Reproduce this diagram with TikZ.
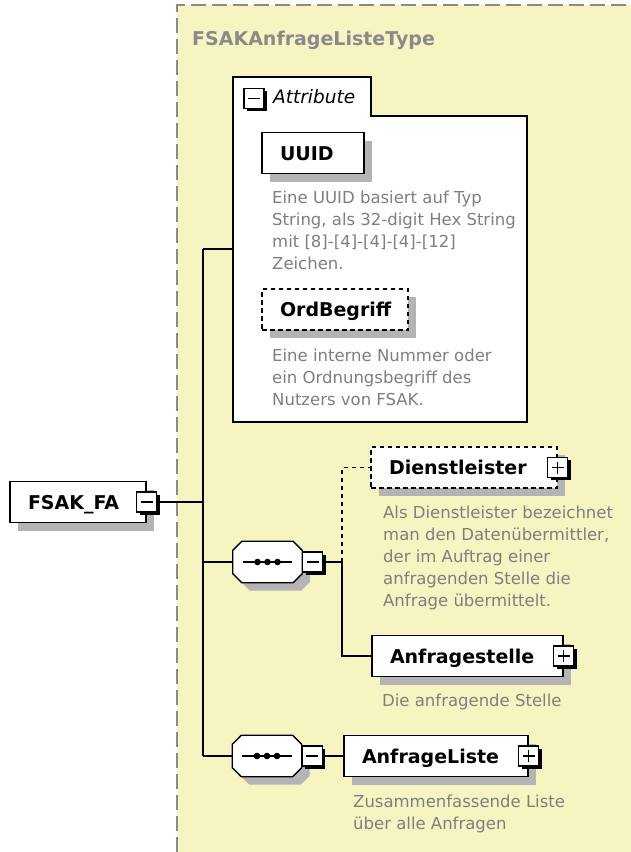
\documentclass[tikz,border=0pt]{standalone}
\usepackage{fontspec}
\setmainfont{DejaVu Sans}
\usetikzlibrary{positioning,shadows}
\definecolor{typefill}{HTML}{F6F4C0}
\definecolor{typeedge}{HTML}{8A8A8A}
\definecolor{shade}{HTML}{B4B4B4}
\definecolor{doctext}{HTML}{7F7F7F}
\newcommand{\elemfont}{\fontsize{19}{22}\selectfont\bfseries}
\newcommand{\docfont}{\fontsize{16.5}{22}\selectfont}
\newcommand{\seqframe}[1]{%
  \path[draw=black, fill=white, line width=1.3pt,
    drop shadow={shadow xshift=8pt, shadow yshift=-8pt, fill=shade, draw=none, opacity=1}]
    ([xshift=9pt]#1.north west) -- ([xshift=-9pt]#1.north east) -- ([yshift=-9pt]#1.north east)
    -- ([yshift=9pt]#1.south east) -- ([xshift=-9pt]#1.south east) -- ([xshift=9pt]#1.south west)
    -- ([yshift=9pt]#1.south west) -- ([yshift=-9pt]#1.north west) -- cycle;
  \draw[line width=1.4pt] ([xshift=10pt]#1.west) -- ([xshift=-10pt]#1.east);
  \foreach \dx in {-10,0,10} \fill ([xshift=\dx pt]#1.center) circle (3.3pt);}

\begin{document}
\begin{tikzpicture}[x=1pt,y=-1pt,
  elem/.style={draw=black, fill=white, line width=1.4pt, inner xsep=18pt, inner ysep=0pt,
    minimum height=41pt, text height=14pt, text depth=0pt, align=left, font=\elemfont,
    drop shadow={shadow xshift=8pt, shadow yshift=-8pt, fill=shade, draw=none, opacity=1}},
  optelem/.style={elem, dash pattern=on 4.5pt off 3.5pt},
  minusbox/.style={draw=black, fill=white, line width=1.2pt, minimum size=20pt, inner sep=0pt,
    drop shadow={shadow xshift=2.8pt, shadow yshift=-2.8pt, fill=black, draw=none, opacity=1},
    path picture={\draw[black, line width=1.5pt] ([xshift=4pt]path picture bounding box.west) -- ([xshift=-4pt]path picture bounding box.east);}},
  plusbox/.style={minusbox,
    path picture={\draw[black, line width=1.5pt] ([xshift=4pt]path picture bounding box.west) -- ([xshift=-4pt]path picture bounding box.east)
      ([yshift=4pt]path picture bounding box.south) -- ([yshift=-4pt]path picture bounding box.north);}},
  seqbox/.style={rectangle, minimum width=69pt, minimum height=41pt, inner sep=0pt},
  doc/.style={anchor=north west, inner sep=0pt, align=left, font=\docfont, text=doctext},
  wire/.style={draw=black, line width=1.2pt}
]
\useasboundingbox (0,0) rectangle (631,852);
\fill[typefill] (177,5) rectangle (631,852);
\draw[typeedge, line width=1.6pt, dash pattern=on 15pt off 6pt] (177,852) -- (177,5) -- (631,5);
\node[anchor=base west, inner sep=0pt, font=\elemfont, text=typeedge] (typename) at (192,45) {FSAKAnfrageListeType};

\draw[line width=1.4pt, fill=white] (233,422) -- (233,77) -- (371,77) -- (371,116) -- (527,116) -- (527,422) -- cycle;
\node[minusbox] (attrM) at (254,98.5) {};
\node[anchor=base west, inner sep=0pt, font=\fontsize{18.5}{22}\selectfont\itshape] (attrlabel) at (273,103) {Attribute};
\coordinate (attrin) at (233,249);

\node[elem, text width=66pt] (uuid) at (313,153) {UUID};
\node[doc] (uuiddoc) at (272,190.5) {Eine UUID basiert auf Typ\\String, als 32-digit Hex String\\mit [8]-[4]-[4]-[4]-[12]\\Zeichen.};
\node[optelem, text width=110pt] (ordb) at (335,309.5) {OrdBegriff};
\node[doc] (ordbdoc) at (272,348.5) {Eine interne Nummer oder\\ein Ordnungsbegriff des\\Nutzers von FSAK.};

\node[elem, text width=100pt] (fa) at (78,502) {FSAK\_FA};
\node[minusbox] (faM) at (fa.east) {};
\coordinate (trunk) at (203,502);

\node[seqbox] (seq1) at (267.5,562) {};
\seqframe{seq1}
\node[minusbox, anchor=west] (seq1M) at (seq1.east) {};
\coordinate (fork) at (342,562);

\node[optelem, text width=150pt] (dienst) at (464,467.5) {Dienstleister};
\node[plusbox] (dienstP) at (dienst.east) {};
\node[doc] (dienstdoc) at (383,505.5) {Als Dienstleister bezeichnet\\man den Datenübermittler,\\der im Auftrag einer\\anfragenden Stelle die\\Anfrage übermittelt.};

\node[elem, text width=155pt] (anfst) at (467.5,656) {Anfragestelle};
\node[plusbox] (anfstP) at (anfst.east) {};
\node[doc] (anfstdoc) at (382,694) {Die anfragende Stelle};

\node[seqbox] (seq2) at (267,756) {};
\seqframe{seq2}
\node[minusbox, anchor=west] (seq2M) at (seq2.east) {};

\node[elem, text width=148pt] (anfl) at (436,756) {AnfrageListe};
\node[plusbox] (anflP) at (anfl.east) {};
\node[doc] (anfldoc) at (353,794.5) {Zusammenfassende Liste\\über alle Anfragen};

\draw[wire] (faM.east) -- (trunk);
\draw[wire] (trunk |- attrin) -- (trunk |- seq2.west);
\draw[wire] (trunk |- attrin) -- (attrin);
\draw[wire] (trunk |- seq1.west) -- (seq1.west);
\draw[wire] (trunk |- seq2.west) -- (seq2.west);
\draw[wire] (seq1M.east) -- (fork);
\draw[wire, dash pattern=on 4pt off 4pt] (fork) |- (dienst.west);
\draw[wire] (fork) |- (anfst.west);
\draw[wire] (seq2M.east) -- (anfl.west);
\end{tikzpicture}
\end{document}
